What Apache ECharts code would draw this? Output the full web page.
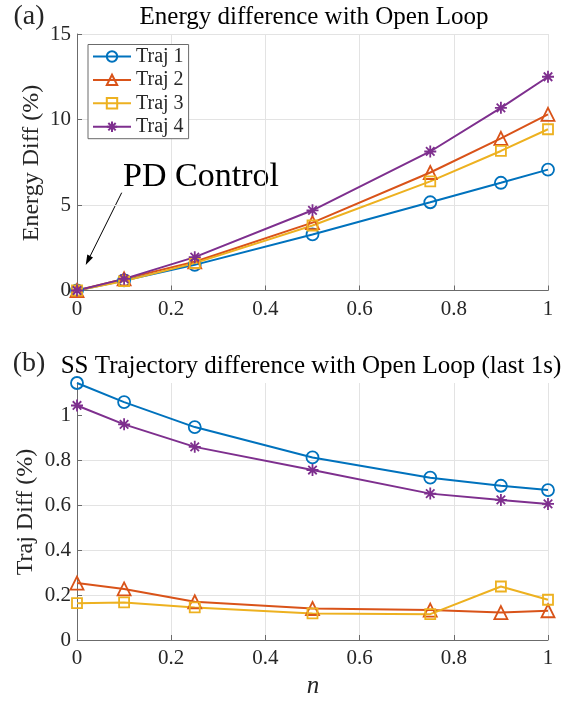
<!DOCTYPE html>
<html>
<head>
<meta charset="utf-8">
<script src="https://cdn.jsdelivr.net/npm/echarts@6/dist/echarts.min.js"></script>
<style>html,body{margin:0;padding:0;background:#fff}#c{width:566px;height:702px}</style>
</head>
<body>
<div id="c"></div>
<script>
// ---- data ----
const nValues = [0, 0.1, 0.25, 0.5, 0.75, 0.9, 1];
const seriesNames = ['Traj 1', 'Traj 2', 'Traj 3', 'Traj 4'];
const energy1 = [0, 0.59, 1.5, 3.28, 5.16, 6.3, 7.07];
const energy2 = [0, 0.68, 1.68, 3.97, 6.9, 8.9, 10.3];
const energy3 = [0, 0.55, 1.6, 3.8, 6.38, 8.16, 9.43];
const energy4 = [0, 0.68, 1.95, 4.69, 8.13, 10.68, 12.5];
const traj1 = [1.143, 1.058, 0.947, 0.812, 0.722, 0.686, 0.667];
const traj2 = [0.253, 0.227, 0.17, 0.14, 0.133, 0.122, 0.13];
const traj3 = [0.164, 0.167, 0.145, 0.118, 0.115, 0.238, 0.179];
const traj4 = [1.043, 0.959, 0.859, 0.756, 0.651, 0.623, 0.605];
const xTicks = [0, 0.2, 0.4, 0.6, 0.8, 1];
const energyTicks = [0, 5, 10, 15];
const trajTicks = [0, 0.2, 0.4, 0.6, 0.8, 1];
const trajMax = 1.143;

// ---- style ----
const FONT = 'Liberation Serif';
const colors = ['#0072BD', '#D95319', '#EDB120', '#7E2F8E'];
const starPath = 'path://M0,-10L0,10M-10,0L10,0M-7.07,-7.07L7.07,7.07M-7.07,7.07L7.07,-7.07';
const symbols = ['circle', 'triangle', 'rect', starPath];
const symbolSizes = [12, 13, 10, 12];
const energyData = [energy1, energy2, energy3, energy4];
const trajData = [traj1, traj2, traj3, traj4];

function zip(xs, ys) { return xs.map((x, i) => [x, ys[i]]); }

function mkSeries(dataArr, gridIdx) {
  return dataArr.map((ys, i) => ({
    name: seriesNames[i],
    type: 'line',
    xAxisIndex: gridIdx,
    yAxisIndex: gridIdx,
    data: zip(nValues, ys),
    symbol: symbols[i],
    symbolSize: symbolSizes[i],
    color: colors[i],
    lineStyle: { color: colors[i], width: 2 },
    itemStyle: { color: 'rgba(255,255,255,0)', borderColor: colors[i], borderWidth: 1.8 },
    emphasis: { disabled: true },
    z: 3
  }));
}

const axisCol = '#6b6b6b';
const textCol = '#262626';
function xAxis(gridIdx, labelMargin) {
  return {
    type: 'value', gridIndex: gridIdx, min: 0, max: 1, interval: 0.2,
    axisLine: { show: true, lineStyle: { color: axisCol, width: 1 } },
    axisTick: { show: true, inside: true, length: 5, lineStyle: { color: axisCol } },
    axisLabel: { color: textCol, fontFamily: FONT, fontSize: 21, margin: labelMargin,
      formatter: v => String(v) },
    splitLine: { show: true, lineStyle: { color: '#e3e3e3', width: 1 } }
  };
}

const chart = echarts.init(document.getElementById('c'), null, { renderer: 'canvas' });

// arrow geometry (annotation)
const tail = [121.7, 192.7], tip = [85.7, 265];
const dx = tip[0] - tail[0], dy = tip[1] - tail[1];
const L = Math.hypot(dx, dy), ux = dx / L, uy = dy / L;
const hl = 10, hw = 3.2;
const bx = tip[0] - hl * ux, by = tip[1] - hl * uy;

const option = {
  animation: false,
  backgroundColor: '#fff',
  grid: [
    { left: 77, right: 18, top: 34, height: 256.5 },
    { left: 77, right: 18, top: 383, height: 257 }
  ],
  xAxis: [xAxis(0, 8), xAxis(1, 8)],
  yAxis: [
    {
      type: 'value', gridIndex: 0, min: 0, max: 15, interval: 5,
      axisLine: { show: true, lineStyle: { color: axisCol, width: 1 } },
      axisTick: { show: true, inside: true, length: 5, lineStyle: { color: axisCol } },
      axisLabel: { color: textCol, fontFamily: FONT, fontSize: 21, margin: 6 },
      splitLine: { show: true, lineStyle: { color: '#e3e3e3', width: 1 } }
    },
    {
      type: 'value', gridIndex: 1, min: 0, max: trajMax,
      axisLine: { show: true, lineStyle: { color: axisCol, width: 1 } },
      axisTick: { show: true, inside: true, length: 5, lineStyle: { color: axisCol }, customValues: trajTicks },
      axisLabel: { color: textCol, fontFamily: FONT, fontSize: 21, margin: 6, customValues: trajTicks,
        formatter: v => String(v) },
      splitLine: { show: true, showMaxLine: false, lineStyle: { color: '#e3e3e3', width: 1 } }
    }
  ],
  legend: {
    data: seriesNames,
    orient: 'vertical',
    left: 88, top: 44.5,
    padding: [2, 5, 2, 4],
    itemWidth: 38, itemHeight: 13, itemGap: 3.4,
    backgroundColor: '#fff',
    borderColor: '#6b6b6b', borderWidth: 1, borderRadius: 0,
    textStyle: { fontFamily: FONT, fontSize: 20, color: textCol, lineHeight: 20 },
    selectedMode: false
  },
  series: mkSeries(energyData, 0).concat(mkSeries(trajData, 1).map(s => Object.assign(s, { name: s.name })))
    ,
  graphic: [
    { type: 'text', x: 29, y: 17, style: { text: '(a)', font: '28px "Liberation Serif"', fill: textCol, align: 'center', verticalAlign: 'middle' } },
    { type: 'text', x: 314, y: 17, style: { text: 'Energy difference with Open Loop', font: '25px "Liberation Serif"', fill: '#000', align: 'center', verticalAlign: 'middle' } },
    { type: 'text', x: 29, y: 364, style: { text: '(b)', font: '28px "Liberation Serif"', fill: textCol, align: 'center', verticalAlign: 'middle' } },
    { type: 'text', x: 311, y: 366, style: { text: 'SS Trajectory difference with Open Loop (last 1s)', font: '25px "Liberation Serif"', fill: '#000', align: 'center', verticalAlign: 'middle' } },
    { type: 'text', x: 32, y: 163, rotation: Math.PI / 2, style: { text: 'Energy Diff (%)', font: '24px "Liberation Serif"', fill: textCol, align: 'center', verticalAlign: 'middle' } },
    { type: 'text', x: 26, y: 512, rotation: Math.PI / 2, style: { text: 'Traj Diff (%)', font: '24px "Liberation Serif"', fill: textCol, align: 'center', verticalAlign: 'middle' } },
    { type: 'text', x: 313, y: 686, style: { text: 'n', font: 'italic 25px "Liberation Serif"', fill: textCol, align: 'center', verticalAlign: 'middle' } },
    { type: 'text', x: 201, y: 177, style: { text: 'PD Control', font: '34px "Liberation Serif"', fill: '#000', align: 'center', verticalAlign: 'middle' } },
    { type: 'line', shape: { x1: tail[0], y1: tail[1], x2: bx, y2: by }, style: { stroke: '#000', lineWidth: 1 } },
    { type: 'polygon', shape: { points: [[tip[0], tip[1]], [bx - hw * uy, by + hw * ux], [bx + hw * uy, by - hw * ux]] }, style: { fill: '#000' } }
  ]
};
chart.setOption(option);
</script>
</body>
</html>
